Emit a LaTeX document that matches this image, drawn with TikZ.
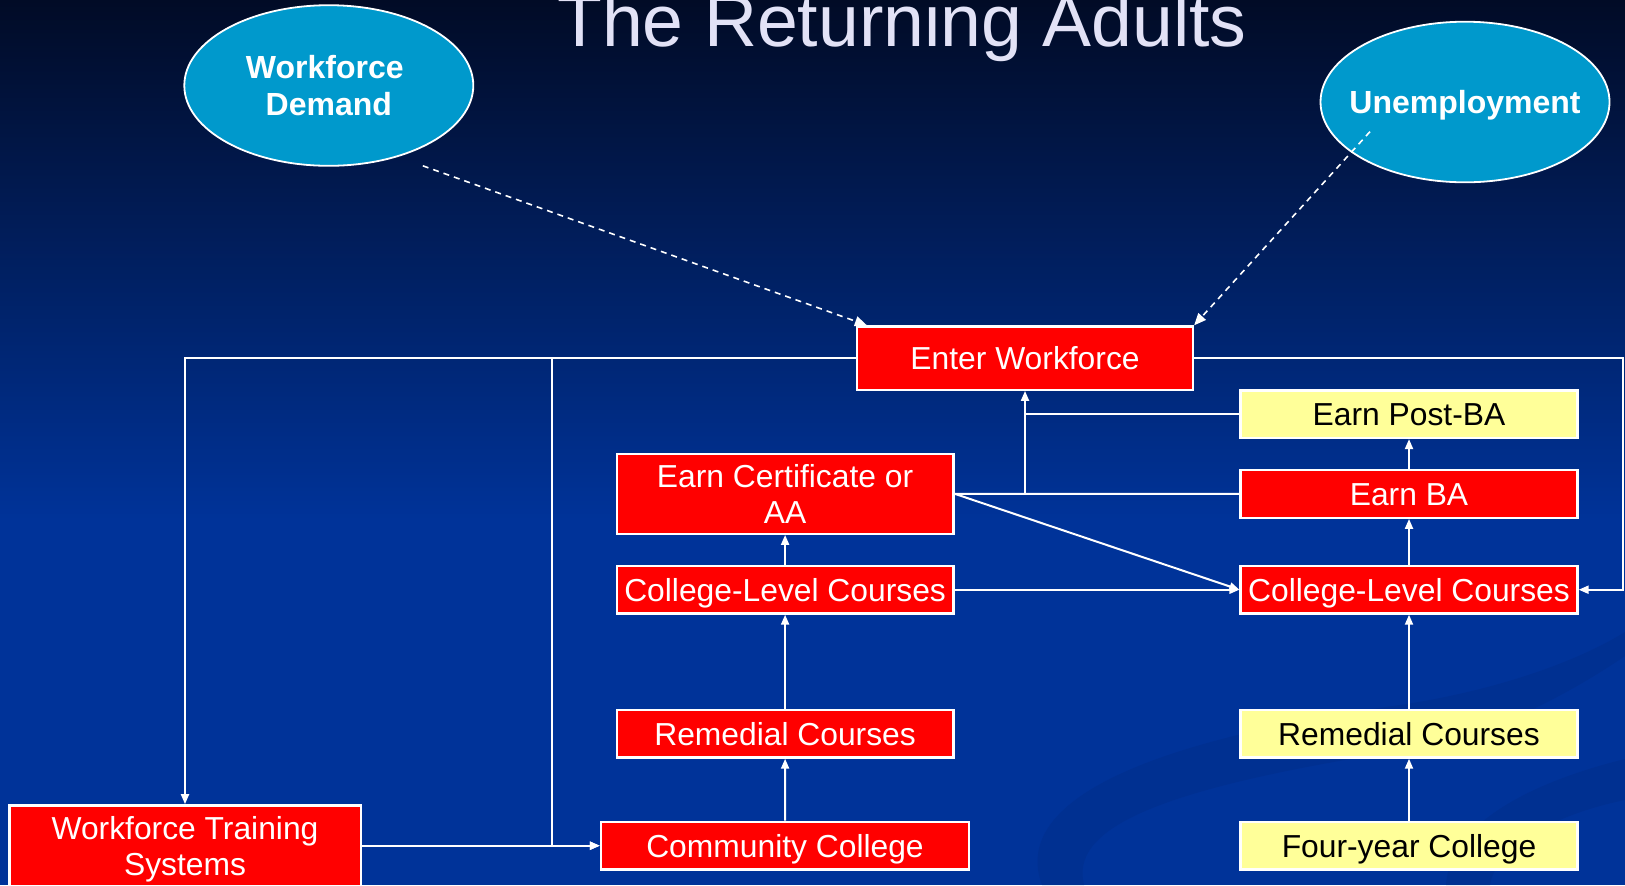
\documentclass[tikz,border=0pt]{standalone}
\usepackage{fontspec}
\setmainfont{Liberation Sans}
\usetikzlibrary{arrows.meta,shapes.geometric,calc}
\definecolor{bgtop}{RGB}{1,11,38}
\definecolor{bgbot}{RGB}{0,51,153}
\definecolor{boxred}{RGB}{255,0,0}
\definecolor{boxyel}{RGB}{255,255,153}
\definecolor{ellblue}{RGB}{0,153,204}
\definecolor{titlecol}{RGB}{226,226,246}
\definecolor{swirlc}{RGB}{0,46,140}
\begin{document}
\begin{tikzpicture}[x=0.5pt,y=-0.5pt,
  basebox/.style={draw=white, line width=1.2pt, inner sep=0pt, minimum width=168.4pt, minimum height=23.8pt, font=\fontsize{15.9}{18.2}\selectfont, align=center},
  onel/.style={text height=11.6pt, text depth=0pt},
  redbox/.style={basebox, fill=boxred, text=white},
  yelbox/.style={basebox, fill=boxyel, text=black},
  ell/.style={ellipse, draw=white, line width=0.9pt, fill=ellblue, text=white, inner sep=0pt, minimum width=144.5pt, minimum height=80.3pt, font=\bfseries\fontsize{16}{18.6}\selectfont, align=center},
  wire/.style={draw=white, line width=1pt},
  tip/.style={-{Triangle[length=5pt,width=4pt]}},
  dwire/.style={draw=white, line width=0.8pt, dash pattern=on 3pt off 2.5pt, -{Triangle[length=6pt,width=5pt]}}
]
\useasboundingbox (0,0) rectangle (1625,885);
% background
\shade[top color=bgtop, bottom color=bgbot] (0,0) rectangle (1625,520);
\fill[bgbot] (0,519) rectangle (1625,885);
% swirl decoration
\fill[swirlc, opacity=0.6] (1042,885) .. controls (1010,800) and (1150,740) .. (1400,705) .. controls (1500,690) and (1580,660) .. (1625,632) -- (1625,656) .. controls (1560,700) and (1480,740) .. (1399,751) .. controls (1150,790) and (1070,830) .. (1084,885) -- cycle;
\fill[swirlc, opacity=0.6] (1446,885) .. controls (1450,820) and (1540,780) .. (1625,759) -- (1625,800) .. controls (1550,815) and (1495,850) .. (1490,885) -- cycle;

% title
\node[font=\fontsize{36.7}{40}\selectfont, text=titlecol, anchor=base, inner sep=0pt] (T) at (902,46.6) {The Returning Adults};

% ellipses
\node[ell, text depth=-3pt] (WD) at (328.8,85.5) {\hspace*{-4pt}Workforce\\Demand};
\node[ell, inner xsep=-7pt, text height=11.7pt, text depth=0pt] (UN) at (1465,102) {Unemployment};

% boxes
\node[redbox, onel, minimum width=167.9pt, minimum height=31.6pt] (EW) at (1025,358.1) {Enter Workforce};
\node[redbox, minimum height=39.9pt] (ECA) at (785.1,493.8) {Earn Certificate or\\AA};
\node[redbox, onel] (CLCL) at (785.1,589.7) {College-Level Courses};
\node[redbox, onel] (REML) at (785.1,733.7) {Remedial Courses};
\node[redbox, onel, minimum width=184pt] (CC) at (785,845.7) {Community College};
\node[redbox, text depth=0pt, minimum width=175.7pt, minimum height=40.4pt] (WTS) at (185,845.7) {Workforce Training\\Systems};
\node[yelbox, onel] (PBA) at (1409,414.1) {Earn Post-BA};
\node[redbox, onel] (BA) at (1409,493.9) {Earn BA};
\node[redbox, onel] (CLCR) at (1409,589.7) {College-Level Courses};
\node[yelbox, onel] (REMR) at (1409,733.7) {Remedial Courses};
\node[yelbox, onel] (FYC) at (1409,845.7) {Four-year College};

% junction coordinates
\coordinate (jL) at (552.4,358.1);
\coordinate (jR) at (1623,358.1);
\coordinate (wdS) at (422.8,165.8);
\coordinate (unS) at (1370,131.6);

% connectors
\draw[wire,tip] (EW.west) -| (WTS.north);
\draw[wire,tip] (jL) |- (CC.west);
\draw[wire,tip] (WTS.east) -- (CC.west);
\draw[wire,tip] (EW.east) -- (jR) |- (CLCR.east);
\draw[wire] (ECA.east) -- (BA.west);
\draw[wire,tip] (ECA.east -| EW.south) -- (EW.south);
\draw[wire] (PBA.west) -- (PBA.west -| EW.south);
\draw[wire,tip] (ECA.east) -- (CLCR.west);
\draw[wire,tip] (CLCL.east) -- (CLCR.west);
\draw[wire,tip] (CC.north) -- (REML.south);
\draw[wire,tip] (REML.north) -- (CLCL.south);
\draw[wire,tip] (CLCL.north) -- (ECA.south);
\draw[wire,tip] (FYC.north) -- (REMR.south);
\draw[wire,tip] (REMR.north) -- (CLCR.south);
\draw[wire,tip] (CLCR.north) -- (BA.south);
\draw[wire,tip] (BA.north) -- (PBA.south);
\draw[dwire] (wdS) -- ([xshift=5.5pt]EW.north west);
\draw[dwire] (unS) -- (EW.north east);
\end{tikzpicture}
\end{document}
